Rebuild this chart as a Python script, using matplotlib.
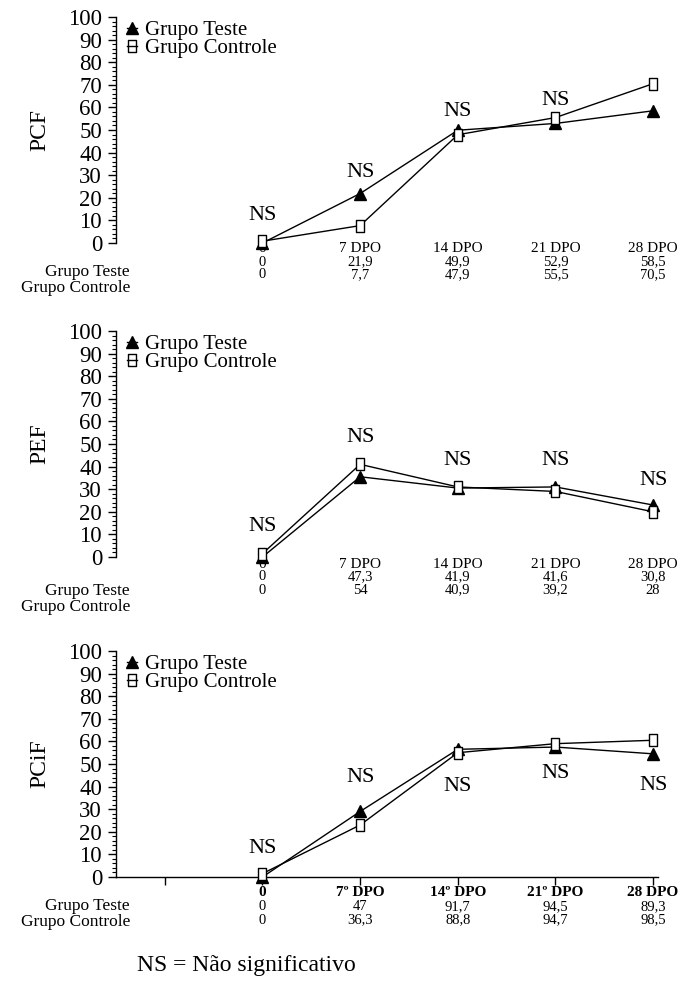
import matplotlib.pyplot as plt
from matplotlib.path import Path

plt.rcParams['font.family'] = ['Liberation Serif', 'DejaVu Serif']

# === Dados ===
categorias = ['0', '7 DPO', '14 DPO', '21 DPO', '28 DPO']
categorias_pcif = ['0', '7º DPO', '14º DPO', '21º DPO', '28 DPO']

# valores desenhados nas curvas
pcf_teste = [0, 21.9, 49.9, 52.9, 58.5]
pcf_controle = [0.8, 7.7, 47.9, 55.5, 70.5]
pef_teste = [0, 35.5, 30.5, 31, 23]
pef_controle = [1.5, 41, 31, 29, 20]
pcif_teste = [0, 29, 56.5, 57.5, 54.5]
pcif_controle = [1.5, 23, 55, 59, 60.5]

# altura dos rotulos "NS"
pcf_ns = [12, 31, 58, 63, None]
pef_ns = [13.5, 53, 42.5, 42.5, 34]
pcif_ns = [12.5, 44, 40, 46, 40.5]

# tabela abaixo de cada grafico
pcf_tab_teste = ['0', '21,9', '49,9', '52,9', '58,5']
pcf_tab_controle = ['0', '7,7', '47,9', '55,5', '70,5']
pef_tab_teste = ['0', '47,3', '41,9', '41,6', '30,8']
pef_tab_controle = ['0', '54', '40,9', '39,2', '28']
pcif_tab_teste = ['0', '47', '91,7', '94,5', '89,3']
pcif_tab_controle = ['0', '36,3', '88,8', '94,7', '98,5']

paineis = [
    dict(nome='PCF', teste=pcf_teste, controle=pcf_controle, ns=pcf_ns,
         cats=categorias, tab_t=pcf_tab_teste, tab_c=pcf_tab_controle,
         bold=False, eixo_x=False, bottom_px=243,
         linhas=(6, 19, 32), rotulos=(29, 45)),
    dict(nome='PEF', teste=pef_teste, controle=pef_controle, ns=pef_ns,
         cats=categorias, tab_t=pef_tab_teste, tab_c=pef_tab_controle,
         bold=False, eixo_x=False, bottom_px=557,
         linhas=(8, 20, 33), rotulos=(34, 50)),
    dict(nome='PCiF', teste=pcif_teste, controle=pcif_controle, ns=pcif_ns,
         cats=categorias_pcif, tab_t=pcif_tab_teste, tab_c=pcif_tab_controle,
         bold=True, eixo_x=True, bottom_px=877,
         linhas=(16, 30, 43), rotulos=(29, 45)),
]

W, H = 696, 992
fig = plt.figure(figsize=(W / 100, H / 100), dpi=100)

# quadrado "alto" usado no grupo controle
ret = Path([(-0.33, -0.5), (0.33, -0.5), (0.33, 0.5), (-0.33, 0.5), (-0.33, -0.5)],
           [Path.MOVETO, Path.LINETO, Path.LINETO, Path.LINETO, Path.CLOSEPOLY])

px = 0.72  # pixel -> pontos
x = list(range(len(categorias)))

for p in paineis:
    left = 116 / W
    width = (658 - 116) / W
    height = 226 / H
    bottom = 1 - p['bottom_px'] / H
    ax = fig.add_axes([left, bottom, width, height])

    ax.plot(x, p['teste'], color='black', lw=1.0, marker='^', ms=8,
            mfc='black', mec='black', clip_on=False, zorder=3, label='Grupo Teste')
    ax.plot(x, p['controle'], color='black', lw=1.0, marker=ret, ms=9,
            mfc='white', mec='black', mew=1.0, clip_on=False, zorder=4,
            label='Grupo Controle')

    for i, h in enumerate(p['ns']):
        if h is not None:
            ax.text(i, h, 'NS', ha='center', va='center', fontsize=16)

    ax.set_xlim(-1.5, 4.05)
    ax.set_ylim(0, 100)
    ax.set_yticks(range(0, 101, 10))
    ax.set_yticks(range(0, 101, 2), minor=True)
    ax.tick_params(axis='y', which='major', length=6, width=1, labelsize=16.5, pad=4)
    ax.tick_params(axis='y', which='minor', length=3, width=0.8)
    ax.spines['top'].set_visible(False)
    ax.spines['right'].set_visible(False)
    ax.spines['left'].set_linewidth(1.0)
    if p['eixo_x']:
        ax.set_xticks(range(-1, 5))
        ax.set_xticklabels([])
        ax.tick_params(axis='x', length=6, width=1)
        ax.spines['bottom'].set_linewidth(1.0)
    else:
        ax.set_xticks([])
        ax.spines['bottom'].set_visible(False)

    ax.set_ylabel(p['nome'], fontsize=17)
    ax.yaxis.set_label_coords(-0.122, 0.5)

    leg = ax.legend(loc='upper left', bbox_to_anchor=(0.005, 1.02), frameon=False,
                    fontsize=15, handlelength=0.5, handletextpad=0.35,
                    labelspacing=-0.1, borderaxespad=0)
    # no legendo a linha atravessa o quadrado
    leg.legend_handles[1].set_markerfacecolor('none')

    # tabela abaixo do grafico
    peso = 'bold' if p['bold'] else 'normal'
    o_cat, o_t, o_c = p['linhas']
    for i in x:
        ax.annotate(p['cats'][i], xy=(i, 0), xycoords=('data', 'axes fraction'),
                    xytext=(0, -o_cat * px), textcoords='offset points',
                    ha='center', va='center', fontsize=11, fontweight=peso)
        ax.annotate(p['tab_t'][i], xy=(i, 0), xycoords=('data', 'axes fraction'),
                    xytext=(0, -o_t * px), textcoords='offset points',
                    ha='center', va='center', fontsize=10.5)
        ax.annotate(p['tab_c'][i], xy=(i, 0), xycoords=('data', 'axes fraction'),
                    xytext=(0, -o_c * px), textcoords='offset points',
                    ha='center', va='center', fontsize=10.5)
    r_t, r_c = p['rotulos']
    for txt, off in [('Grupo Teste', r_t), ('Grupo Controle', r_c)]:
        ax.annotate(txt, xy=((130 - 116) / (658 - 116), 0), xycoords='axes fraction',
                    xytext=(0, -off * px), textcoords='offset points',
                    ha='right', va='center', fontsize=12.5)

fig.text(246 / W, 1 - 965 / H, 'NS = Não significativo', ha='center', va='center',
         fontsize=17)

fig.savefig('out.png', dpi=100)
